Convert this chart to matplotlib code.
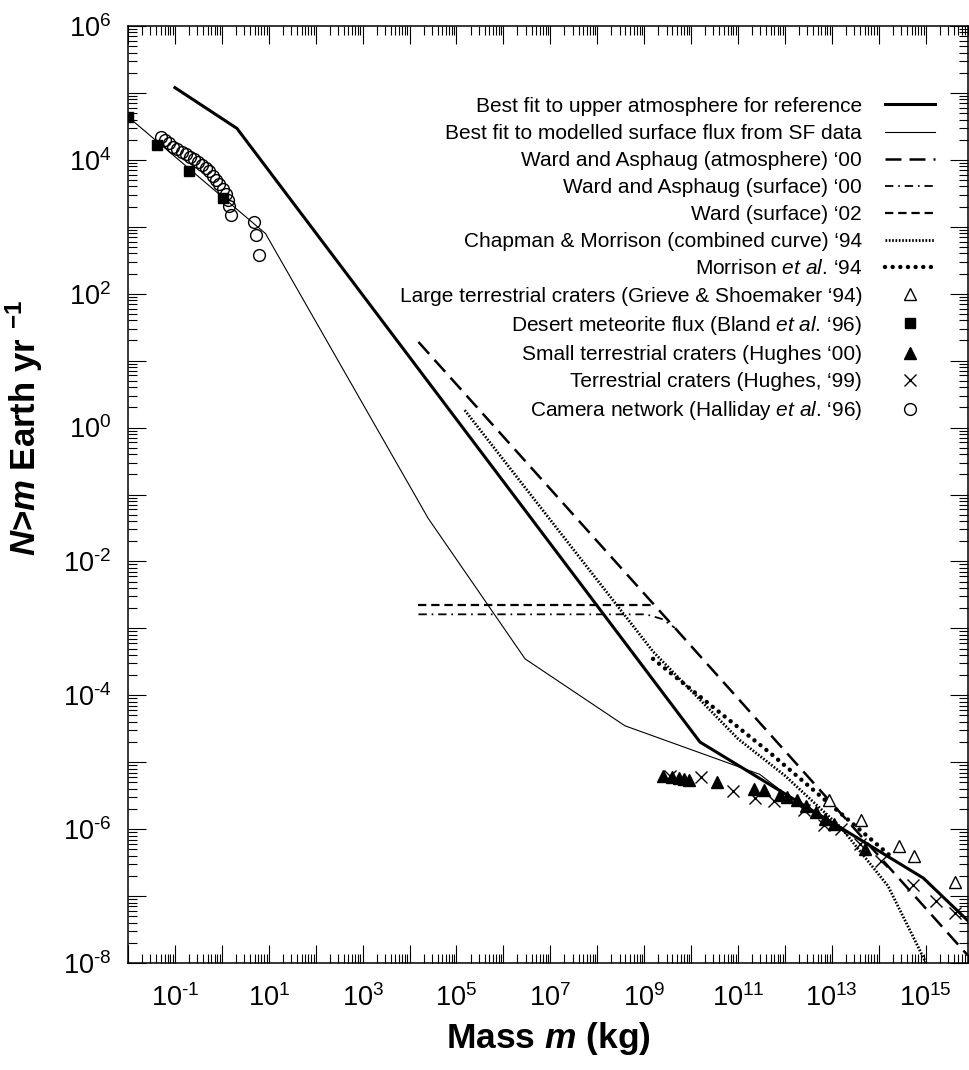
import matplotlib
matplotlib.use('Agg')
import matplotlib.pyplot as plt
import matplotlib.ticker as mticker
import numpy as np

plt.rcParams['font.family'] = ['Liberation Sans', 'DejaVu Sans']
plt.rcParams['mathtext.fontset'] = 'custom'
plt.rcParams['mathtext.rm'] = 'Liberation Sans'
plt.rcParams['mathtext.it'] = 'Liberation Sans:italic'
plt.rcParams['mathtext.bf'] = 'Liberation Sans:bold'
plt.rcParams['mathtext.bfit'] = 'Liberation Sans:italic:bold'
plt.rcParams['lines.scale_dashes'] = False

# ---- data (mass in kg, cumulative number per year) ----
atm_mass = [0.1, 2.1, 1.55e10, 8.9e14, 7.9e15]
atm_N = [1.2e5, 2.95e4, 2.0e-5, 1.86e-7, 4.3e-8]

surf_mass = [0.01, 8.5, 2.5e4, 2.9e6, 3.9e8, 2.9e11, 1.0e12, 8.9e14, 7.9e15]
surf_N = [4.4e4, 794, 4.4e-2, 3.5e-4, 3.5e-5, 6.6e-6, 3.4e-6, 1.86e-7, 4.3e-8]

wa_atm_mass = [1.55e4, 4.5e9, 7.9e15]
wa_atm_N = [19, 1.02e-3, 1.3e-8]

wa_surf_mass = [1.55e4, 1.1e9, 2.4e9, 4.5e9]
wa_surf_N = [1.62e-3, 1.62e-3, 1.38e-3, 1.02e-3]

ward_mass = [1.55e4, 1.7e9]
ward_N = [2.2e-3, 2.2e-3]

cm_mass = [1.5e5, 1.55e9, 1e11, 1e12, 1.58e13, 1.58e14, 1.02e15]
cm_N = [1.82, 4.5e-4, 2.24e-5, 6.3e-6, 1.05e-6, 1.41e-7, 1e-8]

mor_mass = [1.55e9, 5e11, 2e14]
mor_N = [3.5e-4, 1.35e-5, 3.7e-7]

gs_mass = [8.7e12, 4.2e13, 2.75e14, 5.75e14, 4.2e15]
gs_N = [2.75e-6, 1.38e-6, 5.6e-7, 4e-7, 1.6e-7]

desert_mass = [0.01, 0.041, 0.204, 1.05]
desert_N = [4.3e4, 1.68e4, 6.7e3, 2.72e3]

small_mass = [2.5e9, 4e9, 5.6e9, 7.1e9, 8.9e9, 3.5e10, 2.2e11, 3.5e11, 7.9e11,
              1.1e12, 1.8e12, 2.8e12, 4.5e12, 7.1e12, 1.1e13, 5e13]
small_N = [6.3e-6, 6e-6, 5.8e-6, 5.6e-6, 5.4e-6, 5e-6, 4e-6, 3.8e-6, 3.2e-6,
           3e-6, 2.75e-6, 2.2e-6, 1.8e-6, 1.4e-6, 1.2e-6, 5e-7]

hughes_mass = [3.5e9, 1.6e10, 7.9e10, 2.3e11, 5.8e11, 2.6e12, 6.9e12, 1.6e13,
               3.9e13, 1.1e14, 5.4e14, 1.7e15, 4.2e15]
hughes_N = [6.3e-6, 6e-6, 3.7e-6, 2.95e-6, 2.6e-6, 1.95e-6, 1.17e-6, 1e-6,
            5.9e-7, 3.3e-7, 1.48e-7, 8.5e-8, 5.6e-8]

camera_mass = [0.0493, 0.0611, 0.0757, 0.092, 0.112, 0.139, 0.172, 0.209,
               0.255, 0.316, 0.385, 0.461, 0.545, 0.641, 0.757, 0.891, 1.05,
               1.2, 1.32, 1.41, 1.56, 4.78, 5.45, 6.11]
camera_N = [2.19e4, 2.0e4, 1.78e4, 1.58e4, 1.45e4, 1.32e4, 1.23e4, 1.12e4,
            1.02e4, 9.2e3, 8.4e3, 7.5e3, 6.7e3, 5.8e3, 5.0e3, 4.3e3, 3.67e3,
            3.1e3, 2.5e3, 2.04e3, 1.5e3, 1.19e3, 750, 376]

labels = [
    "Best fit to upper atmosphere for reference",
    "Best fit to modelled surface flux from SF data",
    "Ward and Asphaug (atmosphere) \u201800",
    "Ward and Asphaug (surface) \u201800",
    "Ward (surface) \u201802",
    "Chapman & Morrison (combined curve) \u201894",
    "Morrison $\\mathit{et\\ al}$. \u201894",
    "Large terrestrial craters (Grieve & Shoemaker \u201894)",
    "Desert meteorite flux (Bland $\\mathit{et\\ al}$. \u201896)",
    "Small terrestrial craters (Hughes \u201800)",
    "Terrestrial craters (Hughes, \u201899)",
    "Camera network (Halliday $\\mathit{et\\ al}$. \u201896)",
]

fig = plt.figure(figsize=(9.69, 10.70), dpi=100)
ax = fig.add_axes([0.1321, 0.1, 0.8669, 0.8757])

h = []
h += ax.plot(atm_mass, atm_N, color='black', lw=2.2, solid_joinstyle='miter')
h += ax.plot(surf_mass, surf_N, color='black', lw=0.8)
h += ax.plot(wa_atm_mass, wa_atm_N, color='black', lw=1.8, dashes=(11.5, 5.8))
h += ax.plot(wa_surf_mass, wa_surf_N, color='black', lw=1.3, dashes=(6, 3.5, 1.2, 3.5))
h += ax.plot(ward_mass, ward_N, color='black', lw=1.6, dashes=(6, 3.5))
h += ax.plot(cm_mass, cm_N, color='black', lw=2.0, dashes=(1.2, 1.2))
h += ax.plot(mor_mass, mor_N, color='black', lw=3.2, dashes=(0.01, 5.5),
             dash_capstyle='round')
h += ax.plot(gs_mass, gs_N, ls='none', marker='^', ms=9, mfc='white',
             mec='black', mew=1.0)
h += ax.plot(desert_mass, desert_N, ls='none', marker='s', ms=7.5, color='black')
h += ax.plot(small_mass, small_N, ls='none', marker='^', ms=9, color='black')
h += ax.plot(hughes_mass, hughes_N, ls='none', marker='x', ms=9, mew=1.0,
             color='black')
h += ax.plot(camera_mass, camera_N, ls='none', marker='o', ms=8.5, mfc='none',
             mec='black', mew=1.0)

ax.set_xscale('log')
ax.set_yscale('log')
ax.set_xlim(1e-2, 8e15)
ax.set_ylim(1e-8, 1e6)


def xfmt(v, pos):
    e = int(round(np.log10(v)))
    if e % 2 == 0:
        return ''
    return r'$10^{\text{%d}}$' % e


def yfmt(v, pos):
    e = int(round(np.log10(v)))
    if e % 2 != 0:
        return ''
    return r'$10^{\text{%d}}$' % e


for axis in (ax.xaxis, ax.yaxis):
    axis.set_major_locator(mticker.LogLocator(base=10, numticks=40))
    axis.set_minor_locator(mticker.LogLocator(base=10, subs=np.arange(2, 10), numticks=40))
    axis.set_minor_formatter(mticker.NullFormatter())
ax.xaxis.set_major_formatter(mticker.FuncFormatter(xfmt))
ax.yaxis.set_major_formatter(mticker.FuncFormatter(yfmt))

ax.tick_params(which='both', direction='in', top=True, right=True, width=0.8,
               labelsize=19.5)
ax.tick_params(which='major', length=13)
ax.tick_params(which='minor', length=6.8)
ax.tick_params(axis='x', which='major', pad=15)
ax.tick_params(axis='y', which='major', pad=12)
for s in ax.spines.values():
    s.set_linewidth(1.1)

ax.set_xlabel("Mass $\\mathbfit{m}$ (kg)", fontsize=25.5, fontweight='bold', labelpad=6)
ax.set_ylabel("$\\mathbfit{N}$>$\\mathbfit{m}$ Earth yr $^{\\mathbf{-1}}$",
              fontsize=25, fontweight='bold')
ax.yaxis.set_label_coords(-0.099, 0.571)

leg = ax.legend(h, labels, loc='upper right', bbox_to_anchor=(0.9607, 0.9245),
                frameon=False, markerfirst=False, fontsize=15, handlelength=2.4,
                handletextpad=1.1, labelspacing=0.39, borderpad=0,
                borderaxespad=0)

fig.savefig('out.png', dpi=100)
